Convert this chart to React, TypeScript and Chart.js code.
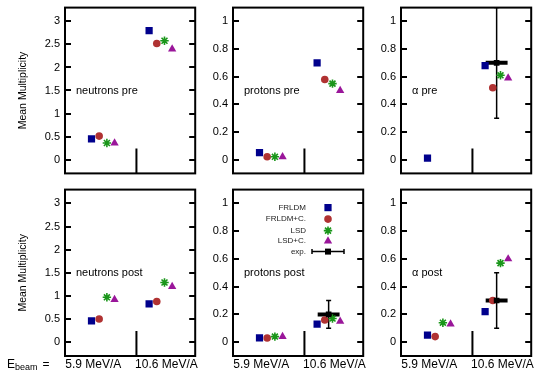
import React, { useEffect, useRef } from 'react';
import { Chart, registerables } from 'chart.js';

Chart.register(...registerables);

// ---------------- data ----------------
const categories = ['5.9 MeV/A', '10.6 MeV/A'];
const categoryX = [1, 2];
const categoryLabelX = [0.83, 2.1];
const seriesNames = ['FRLDM', 'FRLDM+C.', 'LSD', 'LSD+C.'];
const seriesOffsets = [-0.2, -0.067, 0.067, 0.2];
const seriesColors = ['#00008c', '#b03232', '#1a961a', '#9a169a'];
const seriesStyles = ['rect', 'circle', 'star', 'triangle'];
const seriesRadius = [5.1, 3.8, 4.2, 4.8];
const panelTitles = ['neutrons pre', 'protons pre', 'α pre', 'neutrons post', 'protons post', 'α post'];

// values per series: [5.9 MeV/A, 10.6 MeV/A]
const neutronsPre = [[0.45, 2.80], [0.51, 2.52], [0.36, 2.58], [0.36, 2.40]];
const protonsPre = [[0.05, 0.70], [0.02, 0.58], [0.02, 0.55], [0.02, 0.50]];
const alphaPre = [[0.01, 0.68], [null, 0.52], [null, 0.61], [null, 0.59]];
const neutronsPost = [[0.46, 0.83], [0.50, 0.88], [0.97, 1.29], [0.92, 1.20]];
const protonsPost = [[0.03, 0.13], [0.03, 0.16], [0.04, 0.17], [0.04, 0.15]];
const alphaPost = [[0.05, 0.22], [0.04, 0.30], [0.14, 0.57], [0.13, 0.60]];
const panelValues = [neutronsPre, protonsPre, alphaPre, neutronsPost, protonsPost, alphaPost];

// experimental values (10.6 MeV/A only)
const expValues = [null, null, 0.70, null, 0.20, 0.30];
const expErrors = [null, null, 0.40, null, 0.10, 0.20];
const expXError = 0.19;

const bigTicks = [0, 0.5, 1, 1.5, 2, 2.5, 3];
const smallTicks = [0, 0.2, 0.4, 0.6, 0.8, 1];
const bigRange = [-0.3, 3.3];
const smallRange = [-0.1, 1.1];
const xRange = [0.34, 2.6];
const separatorX = 1.58;
const separatorFraction = 0.15; // of y range

// ---------------- layout ----------------
const FONT = "'Liberation Sans', Arial, Helvetica, sans-serif";
const plotLeft = [65, 233, 401];
const plotTop = [6, 188];
const plotW = 132;
const plotH = [169, 168];

function drawMarker(ctx: CanvasRenderingContext2D, style: string, x: number, y: number, color: string) {
  ctx.save();
  ctx.fillStyle = color;
  ctx.strokeStyle = color;
  if (style === 'rect') {
    ctx.fillRect(x - 3.6, y - 3.6, 7.2, 7.2);
  } else if (style === 'circle') {
    ctx.beginPath();
    ctx.arc(x, y, 3.8, 0, Math.PI * 2);
    ctx.fill();
  } else if (style === 'star') {
    const r = 4.2;
    ctx.lineWidth = 1.6;
    ctx.beginPath();
    ctx.moveTo(x - r, y); ctx.lineTo(x + r, y);
    ctx.moveTo(x, y - r); ctx.lineTo(x, y + r);
    const d = r * Math.SQRT1_2;
    ctx.moveTo(x - d, y - d); ctx.lineTo(x + d, y + d);
    ctx.moveTo(x - d, y + d); ctx.lineTo(x + d, y - d);
    ctx.stroke();
  } else if (style === 'triangle') {
    const r = 4.8;
    ctx.beginPath();
    ctx.moveTo(x, y - r);
    ctx.lineTo(x + r * 0.866, y + r / 2);
    ctx.lineTo(x - r * 0.866, y + r / 2);
    ctx.closePath();
    ctx.fill();
  } else if (style === 'exp') {
    ctx.strokeStyle = '#000';
    ctx.fillStyle = '#000';
    ctx.lineWidth = 1.5;
    ctx.beginPath();
    ctx.moveTo(x - 16, y); ctx.lineTo(x + 16, y);
    ctx.moveTo(x - 16, y - 2.5); ctx.lineTo(x - 16, y + 2.5);
    ctx.moveTo(x + 16, y - 2.5); ctx.lineTo(x + 16, y + 2.5);
    ctx.stroke();
    ctx.fillRect(x - 3, y - 3, 6, 6);
  }
  ctx.restore();
}

const panelPlugin = {
  id: 'panelDeco',
  beforeDatasetsDraw(chart: any) {
    const o = chart.options.plugins.panelDeco;
    if (o.exp == null) return;
    const { ctx, chartArea, scales } = chart;
    const xs = scales.x, ys = scales.y;
    const cx = categoryX[1];
    ctx.save();
    ctx.beginPath();
    ctx.rect(chartArea.left, chartArea.top, chartArea.right - chartArea.left, chartArea.bottom - chartArea.top);
    ctx.clip();
    ctx.strokeStyle = '#000';
    const px = xs.getPixelForValue(cx);
    const y0 = ys.getPixelForValue(o.exp - o.err);
    const y1 = ys.getPixelForValue(o.exp + o.err);
    ctx.lineWidth = 1.5;
    ctx.beginPath();
    ctx.moveTo(px, y0); ctx.lineTo(px, y1);
    ctx.moveTo(px - 2.5, y0); ctx.lineTo(px + 2.5, y0);
    ctx.moveTo(px - 2.5, y1); ctx.lineTo(px + 2.5, y1);
    ctx.stroke();
    ctx.lineWidth = 4;
    const py = ys.getPixelForValue(o.exp);
    ctx.beginPath();
    ctx.moveTo(xs.getPixelForValue(cx - expXError), py);
    ctx.lineTo(xs.getPixelForValue(cx + expXError), py);
    ctx.stroke();
    ctx.restore();
  },
  afterDraw(chart: any) {
    const o = chart.options.plugins.panelDeco;
    const { ctx, chartArea, scales } = chart;
    const { left, right, top, bottom } = chartArea;
    ctx.save();
    // panel title
    ctx.fillStyle = '#000';
    ctx.font = `11px ${FONT}`;
    ctx.textAlign = 'left';
    ctx.textBaseline = 'middle';
    ctx.fillText(o.title, left + 11, scales.y.getPixelForValue(o.mid));
    // inward tick marks, left and right
    ctx.strokeStyle = '#000';
    ctx.lineWidth = 2;
    ctx.beginPath();
    for (const t of scales.y.ticks) {
      const py = Math.round(scales.y.getPixelForValue(t.value));
      ctx.moveTo(left, py); ctx.lineTo(left + 6, py);
      ctx.moveTo(right - 6, py); ctx.lineTo(right, py);
    }
    ctx.stroke();
    // frame
    ctx.lineWidth = 2;
    ctx.strokeRect(left, top, right - left, bottom - top);
    // legend
    if (o.legend) {
      ctx.font = `8px ${FONT}`;
      ctx.textAlign = 'right';
      ctx.fillStyle = '#222';
      const rows = [18, 29.5, 41, 51.5, 62];
      const names = [...seriesNames, 'exp.'];
      names.forEach((n, i) => {
        const y = top + rows[i];
        ctx.fillText(n, left + 73, y);
        drawMarker(ctx, i < 4 ? seriesStyles[i] : 'exp', left + 95, y, i < 4 ? seriesColors[i] : '#000');
      });
    }
    ctx.restore();
  },
};

function Panel({ index }: { index: number }) {
  const ref = useRef<HTMLCanvasElement | null>(null);
  const col = index % 3;
  const row = Math.floor(index / 3);
  const big = col === 0;
  const yw = col === 0 ? 60 : 50;
  const padTop = 10;
  const padBottom = row === 0 ? 10 : 2;
  const padRight = 4;
  const xh = row === 1 ? 20 : 0;
  const W = yw + plotW + padRight;
  const H = padTop + plotH[row] + xh + padBottom;
  const cl = plotLeft[col] - yw;
  const ct = plotTop[row] - padTop;

  useEffect(() => {
    const range = big ? bigRange : smallRange;
    const ticks = big ? bigTicks : smallTicks;
    const values = panelValues[index];
    const datasets: any[] = [];
    if (expValues[index] != null) {
      datasets.push({
        label: 'exp.',
        data: [{ x: categoryX[1], y: expValues[index] }],
        pointStyle: 'rect',
        pointRadius: 4,
        backgroundColor: '#000',
        borderColor: '#000',
        borderWidth: 0,
        order: 0,
      });
    }
    for (let s = 3; s >= 0; s--) {
      const pts: any[] = [];
      categoryX.forEach((cx, k) => {
        const v = values[s][k];
        if (v != null) pts.push({ x: cx + seriesOffsets[s], y: v });
      });
      datasets.push({
        label: seriesNames[s],
        data: pts,
        pointStyle: seriesStyles[s],
        pointRadius: seriesRadius[s],
        backgroundColor: seriesColors[s],
        borderColor: seriesColors[s],
        borderWidth: seriesStyles[s] === 'star' ? 1.6 : 0,
        order: 4 - s,
      });
    }
    const sepTop = range[0] + (range[1] - range[0]) * separatorFraction;
    datasets.push({
      label: 'sep',
      data: [{ x: separatorX, y: range[0] }, { x: separatorX, y: sepTop }],
      showLine: true,
      pointRadius: 0,
      borderColor: '#000',
      borderWidth: 2,
      order: 9,
    });

    const chart = new Chart(ref.current as HTMLCanvasElement, {
      type: 'scatter',
      data: { datasets },
      plugins: [panelPlugin],
      options: {
        animation: false,
        responsive: false,
        devicePixelRatio: 1,
        layout: { padding: { left: 0, right: padRight, top: padTop, bottom: padBottom } },
        plugins: {
          legend: { display: false },
          tooltip: { enabled: false },
          panelDeco: {
            title: panelTitles[index],
            mid: big ? 1.5 : 0.5,
            exp: expValues[index],
            err: expErrors[index],
            legend: index === 4,
          },
        } as any,
        scales: {
          x: {
            type: 'linear',
            min: xRange[0],
            max: xRange[1],
            display: row === 1,
            grid: { display: false, drawTicks: false },
            border: { display: false },
            afterBuildTicks: (s: any) => {
              s.ticks = categoryLabelX.map((v) => ({ value: v }));
            },
            afterFit: (s: any) => {
              s.height = xh;
            },
            ticks: {
              autoSkip: false,
              maxRotation: 0,
              padding: 1,
              color: '#000',
              font: { size: 12, family: FONT },
              callback: (_v: any, i: number) => categories[i],
            },
          },
          y: {
            type: 'linear',
            min: range[0],
            max: range[1],
            grid: { display: false, drawTicks: false },
            border: { display: false },
            afterBuildTicks: (s: any) => {
              s.ticks = ticks.map((v) => ({ value: v }));
            },
            afterFit: (s: any) => {
              s.width = yw;
            },
            title: {
              display: col === 0,
              text: 'Mean Multiplicity',
              color: '#000',
              font: { size: 10.5, family: FONT },
              padding: { top: 12, bottom: 0 },
            },
            ticks: {
              padding: 5,
              color: '#000',
              font: { size: 11, family: FONT },
              callback: (v: any) => String(Math.round(Number(v) * 10) / 10),
            },
          },
        },
      } as any,
    });
    return () => chart.destroy();
  }, []);

  return (
    <canvas
      ref={ref}
      width={W}
      height={H}
      style={{ position: 'absolute', left: cl, top: ct, width: W, height: H }}
    />
  );
}

export default function App() {
  return (
    <div
      style={{
        position: 'absolute',
        left: 0,
        top: 0,
        width: 537,
        height: 378,
        overflow: 'hidden',
        background: '#fff',
        fontFamily: FONT,
      }}
    >
      {[0, 1, 2, 3, 4, 5].map((i) => (
        <Panel key={i} index={i} />
      ))}
      <div
        style={{
          position: 'absolute',
          left: 7,
          top: 357,
          fontSize: 12,
          lineHeight: '14px',
          color: '#000',
          whiteSpace: 'nowrap',
        }}
      >
        E
        <span style={{ fontSize: 9, position: 'relative', top: 2 }}>beam</span>
        <span style={{ marginLeft: 5 }}>=</span>
      </div>
    </div>
  );
}
